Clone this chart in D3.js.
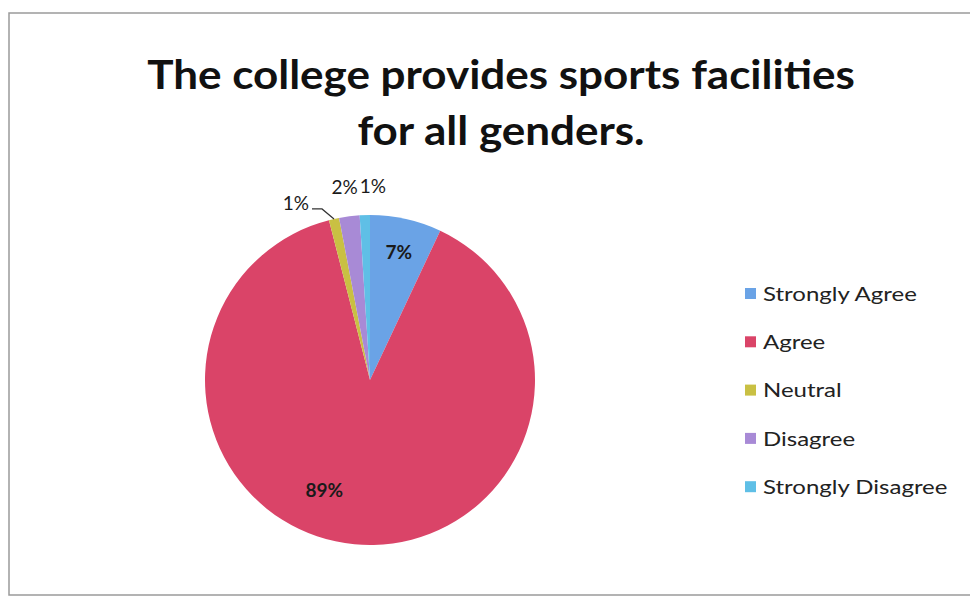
<!DOCTYPE html>
<html><head><meta charset="utf-8">
<script src="https://cdn.jsdelivr.net/npm/d3@7"></script>
<style>body{margin:0;background:#fff;} svg{display:block;}</style>
</head><body>
<svg id="c" width="970" height="603"></svg>
<script>
const categories = ["Strongly Agree", "Agree", "Neutral", "Disagree", "Strongly Disagree"];
const values = [7, 89, 1, 2, 1];
const labels = ["7%", "89%", "1%", "2%", "1%"];
const colors = ["#6aa3e6", "#da4468", "#c9c043", "#a88ad6", "#5fbfe6"];
const titleLines = ["The college provides sports facilities", "for all genders."];

const svg = d3.select("#c");
const font = "Lato, 'Open Sans', sans-serif";

// frame
svg.append("rect").attr("x", 9).attr("y", 13).attr("width", 975).attr("height", 582)
  .attr("fill", "none").attr("stroke", "#9a9a9a").attr("stroke-width", 1.5);

// title
svg.append("g").selectAll("text").data(titleLines).join("text")
  .attr("x", 501).attr("y", (d, i) => 89 + i * 56)
  .attr("text-anchor", "middle").attr("font-family", font)
  .attr("font-weight", "bold").attr("font-size", 40).attr("fill", "#111")
  .attr("transform", "translate(501,0) scale(1.1,1) translate(-501,0)")
  .text(d => d);

const cx = 370, cy = 380, R = 165;
const pie = d3.pie().sort(null).value(d => d)(values);
const arc = d3.arc().innerRadius(0).outerRadius(R);
const g = svg.append("g").attr("transform", `translate(${cx},${cy})`);
g.selectAll("path").data(pie).join("path")
  .attr("d", arc).attr("fill", (d, i) => colors[i]);

const mid = d => (d.startAngle + d.endAngle) / 2;
const pt = (a, r) => [r * Math.sin(a), -r * Math.cos(a)];

// inside labels
const inLab = d3.arc().innerRadius(R * 0.8).outerRadius(R * 0.8);
[0, 1].forEach(i => {
  let [x, y] = inLab.centroid(pie[i]);
  if (i === 1) { const p = pt(mid(pie[i]) + 0.3, R * 0.72); x = p[0]; y = p[1]; }
  g.append("text").attr("x", x).attr("y", y).attr("text-anchor", "middle")
    .attr("dominant-baseline", "central").attr("font-family", font)
    .attr("font-size", 19).attr("font-weight", "bold").attr("fill", "#1a1a1a").text(labels[i]);
});

// outside labels for small slices
[3, 4].forEach(i => {
  const [x, y] = pt(mid(pie[i]), R + 30);
  g.append("text").attr("x", x + (i === 4 ? 9 : -1)).attr("y", y)
    .attr("text-anchor", "middle").attr("dominant-baseline", "central")
    .attr("font-family", font).attr("font-size", 19).attr("fill", "#1a1a1a").text(labels[i]);
});
// neutral label with leader line
{
  const [ox, oy] = pt(mid(pie[2]), R);
  const lx = ox - 22, ly = oy - 10;
  g.append("path").attr("d", `M${ox},${oy}L${lx + 10},${ly}L${lx},${ly}`)
    .attr("fill", "none").attr("stroke", "#333").attr("stroke-width", 1.2);
  g.append("text").attr("x", lx - 3).attr("y", ly - 6).attr("text-anchor", "end")
    .attr("dominant-baseline", "central").attr("font-family", font)
    .attr("font-size", 19).attr("fill", "#1a1a1a").text(labels[2]);
}

// legend
const lg = svg.append("g").selectAll("g").data(categories).join("g")
  .attr("transform", (d, i) => `translate(745,${293 + i * 48.3})`);
lg.append("rect").attr("x", 0).attr("y", -5).attr("width", 11).attr("height", 11)
  .attr("fill", (d, i) => colors[i]);
lg.append("text").attr("x", 18).attr("y", 0).attr("dominant-baseline", "central")
  .attr("font-family", font).attr("font-size", 20).attr("fill", "#222")
  .attr("transform", "translate(18,0) scale(1.2,1) translate(-18,0)")
  .text(d => d);
</script>
</body></html>
